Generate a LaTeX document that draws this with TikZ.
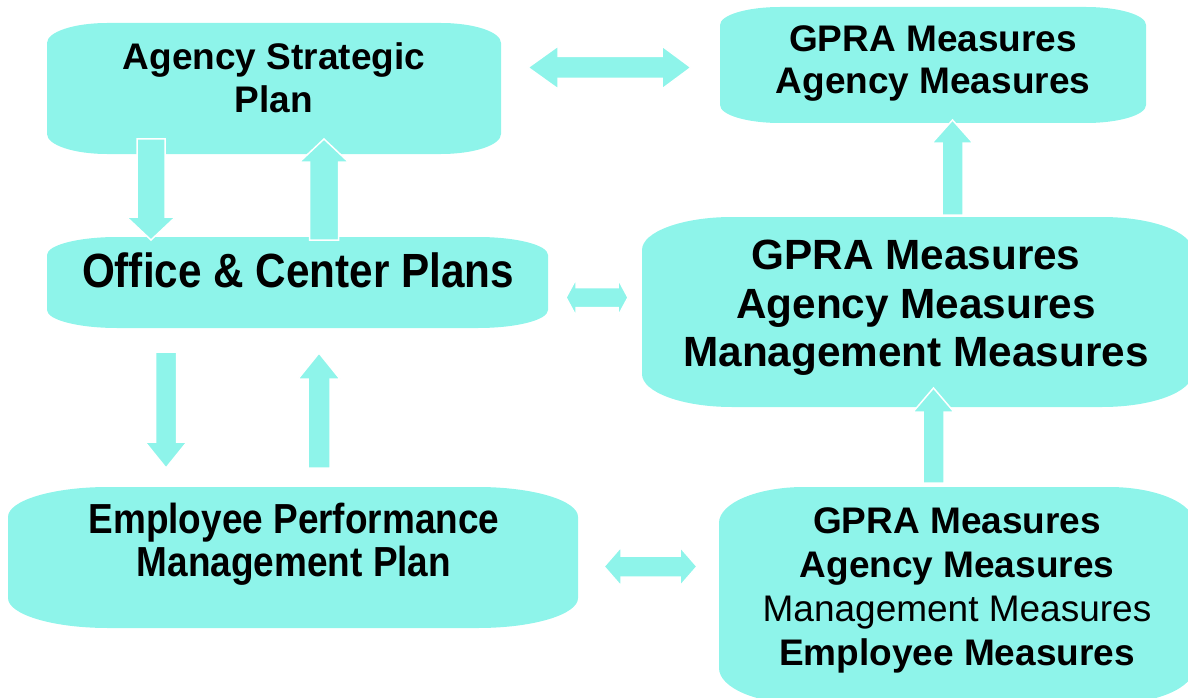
\documentclass[tikz,border=0pt]{standalone}
\usepackage{fontspec}
\setmainfont{Liberation Sans}
\newfontfamily\condfont[FakeStretch=0.88]{Liberation Sans}
\definecolor{boxcyan}{RGB}{142,244,234}
\tikzset{
  boxfill/.style={fill=boxcyan},
  blockarrow/.style={fill=boxcyan, draw=white, line width=1.5pt, line join=miter},
  lbl/.style={align=center, inner sep=0pt, text=black},
}
% x1 y1 x2 y2 rx ry
\newcommand{\ebox}[6]{%
  \fill[boxfill] (#1,#2+#6) arc[start angle=180,end angle=270,x radius=#5,y radius=#6]
    -- (#3-#5,#2) arc[start angle=270,end angle=360,x radius=#5,y radius=#6]
    -- (#3,#4-#6) arc[start angle=0,end angle=90,x radius=#5,y radius=#6]
    -- (#1+#5,#4) arc[start angle=90,end angle=180,x radius=#5,y radius=#6] -- cycle;}
% cx, tipY, headbaseY, tailY, shaftHalf, headHalf
\newcommand{\blkvert}[6]{%
  \draw[blockarrow] (#1,#2) -- (#1+#6,#3) -- (#1+#5,#3) -- (#1+#5,#4) -- (#1-#5,#4)
    -- (#1-#5,#3) -- (#1-#6,#3) -- cycle;}
% cy, leftTip, leftBase, rightBase, rightTip, shaftHalf, headHalf
\newcommand{\blkdbl}[7]{%
  \draw[blockarrow] (#2,#1) -- (#3,#1-#7) -- (#3,#1-#6) -- (#4,#1-#6) -- (#4,#1-#7)
    -- (#5,#1) -- (#4,#1+#7) -- (#4,#1+#6) -- (#3,#1+#6) -- (#3,#1+#7) -- cycle;}
\begin{document}
\begin{tikzpicture}[x=1pt,y=1pt,yscale=-1]
\useasboundingbox (0,0) rectangle (1188,698);
% boxes
\ebox{47}{23}{501}{154}{60}{20}
\ebox{720}{7}{1146}{123}{60}{18}
\ebox{47}{237}{548}{328}{70}{18}
\ebox{642}{217}{1192}{407}{90}{33}
\ebox{8}{487}{578}{628}{100}{30}
\ebox{719}{487}{1194}{704}{85}{36}
% labels
\node[lbl, font=\fontsize{37}{43}\selectfont\bfseries] (asp) at (274,78) {Agency Strategic\\Plan};
\node[lbl, font=\fontsize{37}{42}\selectfont\bfseries] (gtop) at (933,64) {GPRA Measures\\Agency Measures};
\node[lbl, font=\condfont\fontsize{48}{52}\selectfont\bfseries] (ocp) at (298,270) {Office \& Center Plans};
\node[lbl, font=\fontsize{42.3}{48.5}\selectfont\bfseries] (gmid) at (916,308) {GPRA Measures\\Agency Measures\\Management Measures};
\node[lbl, font=\condfont\fontsize{42}{43}\selectfont\bfseries] (epm) at (294,544) {Employee Performance\\Management Plan};
\node[lbl, font=\fontsize{37}{44}\selectfont] (gbot) at (957,590.5) {\textbf{GPRA Measures}\\\textbf{Agency Measures}\\Management Measures\\\textbf{Employee Measures}};
% arrows
\blkdbl{67.5}{528}{558}{662}{691}{11}{21.5}
\blkvert{151}{240}{217}{139}{14}{24.5}
\blkvert{324}{139}{162}{240}{14.5}{24.5}
\blkdbl{297.5}{566}{576}{618}{628}{10}{18.5}
\blkvert{166}{468}{442}{352}{10.5}{21}
\blkvert{319}{353}{379}{468}{11}{21}
\blkdbl{566.5}{604}{621}{680}{697}{10.5}{19.5}
\blkvert{952.5}{120}{143}{215}{10.5}{20.5}
\blkvert{933.5}{388}{412}{483}{10.5}{20.5}
\end{tikzpicture}
\end{document}
